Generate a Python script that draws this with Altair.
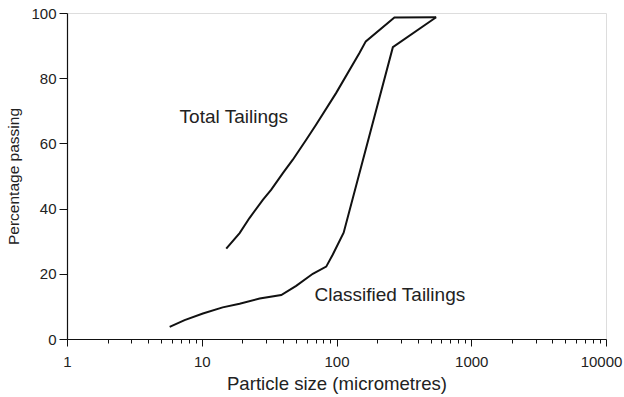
import altair as alt
import pandas as pd

# Particle size distribution (percentage passing vs particle size, micrometres)
total_size = [15.2, 19.1, 22.6, 28.4, 32.8, 40.0, 47.4, 59.6, 70.7, 99.5, 148, 165, 269, 549]
total_pass = [27.7, 32.5, 37.1, 42.7, 45.8, 50.9, 55.0, 61.1, 65.8, 75.5, 87.7, 91.3, 98.6, 98.7]

class_size = [5.78, 7.46, 10.2, 14.3, 19.1, 26.9, 38.9, 50.2, 66.7, 83.9, 93.9, 113, 262, 549]
class_pass = [3.7, 5.8, 7.8, 9.7, 10.8, 12.4, 13.5, 16.3, 20.0, 22.2, 25.9, 32.6, 89.5, 98.7]

label_text = ["Total Tailings", "Classified Tailings"]
label_x = [6.85, 68.7]
label_y = [68.0, 13.6]

x_ticks = [1, 2, 3, 4, 5, 6, 7, 8, 9,
           10, 20, 30, 40, 50, 60, 70, 80, 90,
           100, 200, 300, 400, 500, 600, 700, 800, 900,
           1000, 2000, 3000, 4000, 5000, 6000, 7000, 8000, 9000, 10000]
y_ticks = [0, 10, 20, 30, 40, 50, 60, 70, 80, 90, 100]

rows = []
for i, (s, p) in enumerate(zip(total_size, total_pass)):
    rows.append({"series": "Total", "size": s, "passing": p, "order": i})
for i, (s, p) in enumerate(zip(class_size, class_pass)):
    rows.append({"series": "Classified", "size": s, "passing": p, "order": i})
df = pd.DataFrame(rows)
labels = pd.DataFrame({"text": label_text, "size": label_x, "passing": label_y})

FONT = "Liberation Sans"
major_x = "datum.value==1||datum.value==10||datum.value==100||datum.value==1000||datum.value==10000"

x_scale = alt.Scale(type="log", domain=[1, 10000], nice=False)
y_scale = alt.Scale(domain=[0, 100], nice=False)

x_axis = alt.Axis(
    title="Particle size (micrometres)", values=x_ticks, format="d",
    labelExpr="(" + major_x + ") ? datum.label : ''",
    grid=False, domainColor="#111", domainWidth=1.2, tickColor="#111", tickWidth=1,
    tickSize={"condition": {"test": major_x, "value": 7}, "value": 4},
    labelOffset={"condition": {"test": "datum.value==10000", "value": -5}, "value": 0},
    labelFont=FONT, labelFontSize=15, labelColor="#222", labelPadding=8,
    labelFlush=False, labelOverlap=False,
    titleFont=FONT, titleFontSize=18.6, titleFontWeight="normal", titleColor="#222",
    titlePadding=5,
)
y_axis = alt.Axis(
    title="Percentage passing", values=y_ticks,
    labelExpr="datum.value % 20 == 0 ? datum.label : ''",
    grid=False, domainColor="#111", domainWidth=1.2, tickColor="#111", tickWidth=1,
    tickSize={"condition": {"test": "datum.value % 20 == 0", "value": 8}, "value": 5},
    labelFont=FONT, labelFontSize=15, labelColor="#222", labelPadding=3,
    labelFlush=False, labelOverlap=False,
    titleFont=FONT, titleFontSize=15.5, titleFontWeight="normal", titleColor="#222",
    titlePadding=9,
)

lines = alt.Chart(df).mark_line(color="#111", strokeWidth=2).encode(
    x=alt.X("size:Q", scale=x_scale, axis=x_axis),
    y=alt.Y("passing:Q", scale=y_scale, axis=y_axis),
    detail="series:N",
    order="order:Q",
)

texts = alt.Chart(labels).mark_text(
    align="left", baseline="middle", font=FONT, fontSize=19, color="#222"
).encode(
    x=alt.X("size:Q", scale=x_scale),
    y=alt.Y("passing:Q", scale=y_scale),
    text="text:N",
)

chart = (lines + texts).properties(
    width=539, height=326,
    autosize="none",
    padding={"left": 67, "top": 13, "right": 18, "bottom": 58},
).configure_view(stroke="#777", strokeWidth=1.5).configure(background="white")

chart.save("out.html", embed_options={"renderer": "svg", "actions": False})
